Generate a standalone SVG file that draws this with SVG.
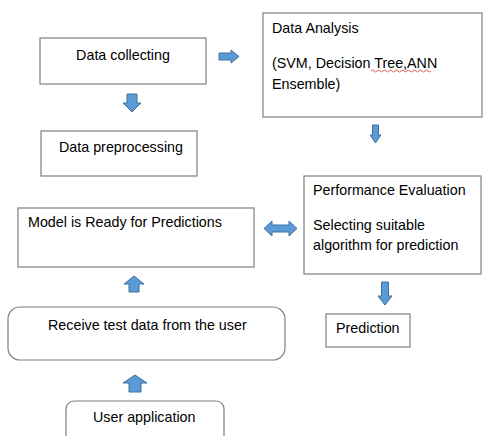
<svg xmlns="http://www.w3.org/2000/svg" width="483" height="436" viewBox="0 0 483 436">
<style>
.box{fill:#fff;stroke:#7f7f7f;stroke-width:1.2}
.t{font-family:"Liberation Sans",Arial,sans-serif;font-size:14.3px;fill:#000}
.arr{fill:#5b9bd5;stroke:#41719c;stroke-width:1}
</style>
<rect width="483" height="436" fill="#fff"/>
<g id="node-collect"><rect class="box" x="40" y="38" width="166" height="46"/><text class="t" x="123" y="60" text-anchor="middle">Data collecting</text></g>
<g id="node-preprocess"><rect class="box" x="41" y="131" width="156" height="45"/><text class="t" x="59" y="152">Data preprocessing</text></g>
<g id="node-analysis"><rect class="box" x="263" y="13" width="219" height="104"/><text class="t" x="272" y="33">Data Analysis</text><text class="t" x="272" y="68">(SVM, Decision Tree,ANN</text><text class="t" x="272" y="89">Ensemble)</text><path d="M371 71 q1.5 -2 3 0 t3 0 t3 0 t3 0 t3 0 t3 0 t3 0 t3 0 t3 0 t3 0 t3 0 t3 0 t3 0 t3 0 t3 0 t3 0 t3 0 t3 0 t3 0 t3 0" fill="none" stroke="#e03030" stroke-width="0.8"/></g>
<g id="node-perf"><rect class="box" x="304" y="176" width="177" height="98"/><text class="t" x="313" y="195">Performance Evaluation</text><text class="t" x="313" y="230">Selecting suitable</text><text class="t" x="313" y="250">algorithm for prediction</text></g>
<g id="node-prediction"><rect class="box" x="326" y="314" width="84" height="33"/><text class="t" x="336" y="333">Prediction</text></g>
<g id="node-model"><rect class="box" x="18" y="208" width="236" height="59"/><text class="t" x="28" y="227">Model is Ready for Predictions</text></g>
<g id="node-receive"><rect class="box" x="8" y="307" width="277" height="53" rx="12"/><text class="t" x="48" y="330">Receive test data from the user</text></g>
<g id="node-user"><rect class="box" x="66" y="401" width="158" height="50" rx="8"/><text class="t" x="93" y="422">User application</text></g>
<g id="connectors">
<polygon class="arr" points="219,53 231,53 231,50 239,56.5 231,63 231,60 219,60"/>
<polygon class="arr" points="127,94 137,94 137,103 141,103 132,112 123,103 127,103"/>
<polygon class="arr" points="372.5,125 378.5,125 378.5,135 381,135 375.5,143 370,135 372.5,135"/>
<polygon class="arr" points="264,228.5 272,221 272,225 289,225 289,221 297,228.5 289,236 289,232 272,232 272,236"/>
<polygon class="arr" points="381.5,282 388.5,282 388.5,296 392,296 385,305 378,296 381.5,296"/>
<polygon class="arr" points="134,276 144,284 139,284 139,292 129,292 129,284 124,284"/>
<polygon class="arr" points="135,375 147,383 141,383 141,392 129,392 129,383 123,383"/>
</g>
</svg>
